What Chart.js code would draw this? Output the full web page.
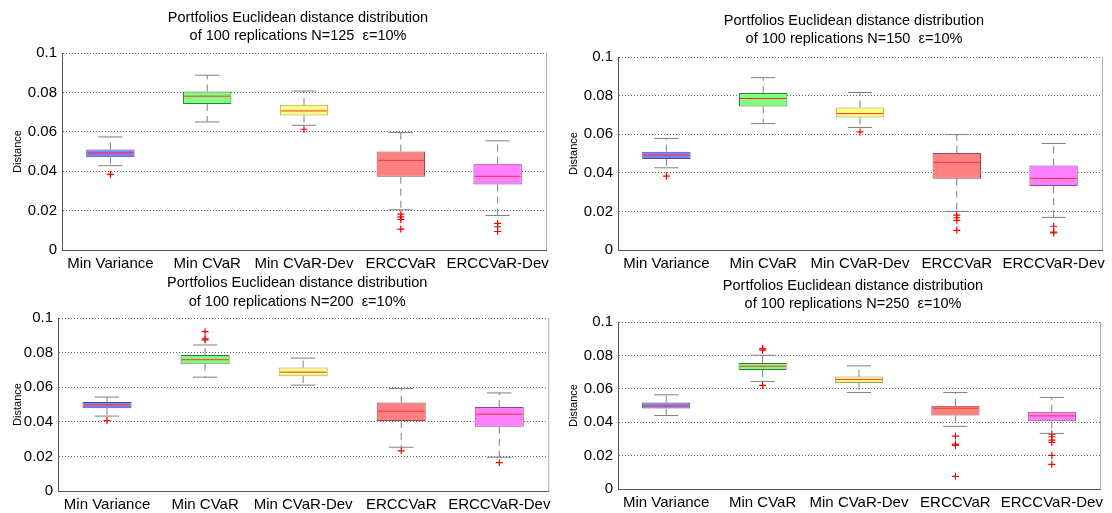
<!DOCTYPE html>
<html>
<head>
<meta charset="utf-8">
<script src="https://cdn.jsdelivr.net/npm/chart.js@4.4.1/dist/chart.umd.min.js"></script>
<style>
body { margin: 0; background: #fff; width: 1112px; height: 513px; overflow: hidden; position: relative; }
canvas { position: absolute; }
</style>
</head>
<body>
<canvas id="c125" width="556" height="270" style="left:0;top:0"></canvas>
<canvas id="c150" width="556" height="270" style="left:556px;top:0"></canvas>
<canvas id="c200" width="556" height="243" style="left:0;top:270px"></canvas>
<canvas id="c250" width="556" height="243" style="left:556px;top:270px"></canvas>
<script>
var categories = ['Min Variance', 'Min CVaR', 'Min CVaR-Dev', 'ERCCVaR', 'ERCCVaR-Dev'];
var yTickLabels = ['0', '0.02', '0.04', '0.06', '0.08', '0.1'];

// N=125
var lo125 = [0.0428, 0.0650, 0.0633, 0.0204, 0.0175];
var q1_125 = [0.0471, 0.0741, 0.0683, 0.0372, 0.0333];
var med125 = [0.0493, 0.0781, 0.0706, 0.0455, 0.0374];
var q3_125 = [0.0510, 0.0805, 0.0737, 0.0500, 0.0438];
var hi125 = [0.0574, 0.0887, 0.0807, 0.0596, 0.0554];
var out125 = [[0.0384], [], [0.0613], [0.0182, 0.0168, 0.0155, 0.0106], [0.0135, 0.0118, 0.0094]];

// N=150
var lo150 = [0.0426, 0.0655, 0.0635, 0.0200, 0.0169];
var q1_150 = [0.0471, 0.0743, 0.0686, 0.0369, 0.0331];
var med150 = [0.0491, 0.0785, 0.0707, 0.0454, 0.0371];
var q3_150 = [0.0509, 0.0814, 0.0738, 0.0503, 0.0438];
var hi150 = [0.0578, 0.0893, 0.0816, 0.0598, 0.0552];
var out150 = [[0.0383], [], [0.0612], [0.0181, 0.0167, 0.0154, 0.0102], [0.0123, 0.0093, 0.0088]];

// N=200
var lo200 = [0.0433, 0.0658, 0.0612, 0.0253, 0.0195];
var q1_200 = [0.0479, 0.0735, 0.0664, 0.0404, 0.0371];
var med200 = [0.0496, 0.0759, 0.0687, 0.0461, 0.0444];
var q3_200 = [0.0514, 0.0786, 0.0714, 0.0511, 0.0485];
var hi200 = [0.0543, 0.0844, 0.0768, 0.0592, 0.0567];
var out200 = [[0.0407], [0.0921, 0.0880, 0.0874], [], [0.0232], [0.0164]];

// N=250
var lo250 = [0.0440, 0.0644, 0.0578, 0.0375, 0.0333];
var q1_250 = [0.0482, 0.0713, 0.0634, 0.0440, 0.0405];
var med250 = [0.0496, 0.0735, 0.0656, 0.0484, 0.0438];
var q3_250 = [0.0518, 0.0755, 0.0673, 0.0498, 0.0462];
var hi250 = [0.0564, 0.0801, 0.0737, 0.0578, 0.0548];
var out250 = [[], [0.0841, 0.0831, 0.0620], [], [0.0317, 0.0269, 0.0261, 0.0076], [0.0329, 0.0313, 0.0293, 0.0279, 0.0201, 0.0148]];

var boxFill = ['rgb(128,128,255)', 'rgb(128,255,128)', 'rgb(255,255,128)', 'rgb(255,128,128)', 'rgb(255,128,255)'];
var boxEdge = ['#4a4a8c', '#3c7a3c', '#9a9a6a', '#8a5050', '#8a4a8a'];
var fontName = '"Liberation Sans", Arial, sans-serif';

var boxParts = {
    id: 'boxParts',
    afterDatasetsDraw: function (chart, args, o) {
        var ctx = chart.ctx, xs = chart.scales.x, ys = chart.scales.y;
        var bars = chart.getDatasetMeta(0).data;
        ctx.save();
        for (var i = 0; i < categories.length; i++) {
            var x = xs.getPixelForValue(i);
            var w = bars[i].width;
            var yLo = ys.getPixelForValue(o.lo[i]), yHi = ys.getPixelForValue(o.hi[i]);
            var yQ1 = ys.getPixelForValue(o.q1[i]), yQ3 = ys.getPixelForValue(o.q3[i]);
            var yMed = ys.getPixelForValue(o.med[i]);
            ctx.lineWidth = 1;
            ctx.strokeStyle = '#808080';
            ctx.setLineDash([7, 5]);
            ctx.beginPath();
            ctx.moveTo(x, yQ3); ctx.lineTo(x, yHi);
            ctx.moveTo(x, yQ1); ctx.lineTo(x, yLo);
            ctx.stroke();
            ctx.setLineDash([]);
            ctx.beginPath();
            ctx.moveTo(x - w / 4, yHi); ctx.lineTo(x + w / 4, yHi);
            ctx.moveTo(x - w / 4, yLo); ctx.lineTo(x + w / 4, yLo);
            ctx.stroke();
            ctx.strokeStyle = '#ff3030';
            ctx.beginPath();
            ctx.moveTo(x - w / 2 + 1, yMed); ctx.lineTo(x + w / 2 - 1, yMed);
            ctx.stroke();
        }
        var a = chart.chartArea;
        ctx.strokeStyle = '#b0b0b0';
        ctx.beginPath();
        ctx.moveTo(a.right + 0.5, a.top); ctx.lineTo(a.right + 0.5, a.bottom);
        ctx.stroke();
        ctx.restore();
    },
    afterDraw: function (chart, args, o) {
        var ctx = chart.ctx, a = chart.chartArea;
        ctx.save();
        ctx.fillStyle = '#000';
        ctx.font = '14.5px ' + fontName;
        ctx.textAlign = 'center';
        ctx.textBaseline = 'middle';
        for (var k = 0; k < o.title.length; k++) {
            ctx.fillText(o.title[k], (a.left + a.right) / 2 - 6, o.titleY[k]);
        }
        ctx.restore();
    }
};

function boxChart(id, n, geo, lo, q1, med, q3, hi, out) {
    var canvas = document.getElementById(id);
    var W = canvas.width, H = canvas.height;
    var outPts = [];
    out.forEach(function (vals, i) {
        vals.forEach(function (v) { outPts.push({ x: categories[i], y: v }); });
    });
    return new Chart(canvas, {
        type: 'bar',
        data: {
            labels: categories,
            datasets: [{
                type: 'bar',
                data: q1.map(function (v, i) { return [v, q3[i]]; }),
                backgroundColor: boxFill,
                borderColor: boxEdge,
                borderWidth: 1,
                borderSkipped: false,
                categoryPercentage: 1,
                barPercentage: 0.5
            }, {
                type: 'scatter',
                data: outPts,
                pointStyle: 'cross',
                pointRadius: 3.5,
                pointBorderWidth: 1.2,
                pointBorderColor: '#ff0000',
                borderColor: '#ff0000',
                backgroundColor: '#ff0000'
            }]
        },
        options: {
            responsive: false,
            animation: false,
            devicePixelRatio: 1,
            layout: { padding: { left: 0, top: geo.top, right: W - geo.right, bottom: 0 } },
            plugins: {
                legend: { display: false },
                tooltip: { enabled: false },
                boxParts: {
                    lo: lo, q1: q1, med: med, q3: q3, hi: hi,
                    title: ['Portfolios Euclidean distance distribution', 'of 100 replications N=' + n + '  \u03b5=10%'],
                    titleY: geo.titleY
                }
            },
            scales: {
                x: {
                    type: 'category',
                    offset: true,
                    grid: { display: false, drawTicks: false },
                    border: { display: true, color: '#555' },
                    ticks: { color: '#000', font: { family: fontName, size: 15 }, padding: 5, maxRotation: 0, autoSkip: false },
                    afterFit: function (s) { s.height = H - geo.bottom; }
                },
                y: {
                    min: 0,
                    max: 0.1,
                    grid: { color: '#666', drawTicks: false },
                    border: { display: true, color: '#555', dash: [1, 2] },
                    ticks: {
                        stepSize: 0.02,
                        color: '#000',
                        padding: 5,
                        font: { family: fontName, size: 15 },
                        callback: function (v, i) { return yTickLabels[i]; }
                    },
                    title: { display: true, text: 'Distance', color: '#000', font: { family: fontName, size: 11 }, padding: { top: 11, bottom: 0 } },
                    afterFit: function (s) { s.width = geo.left; }
                }
            }
        },
        plugins: [boxParts]
    });
}

boxChart('c125', 125, { left: 62, right: 546, top: 53, bottom: 250, titleY: [18, 36] }, lo125, q1_125, med125, q3_125, hi125, out125);
boxChart('c150', 150, { left: 62, right: 546, top: 57, bottom: 250, titleY: [21, 39] }, lo150, q1_150, med150, q3_150, hi150, out150);
boxChart('c200', 200, { left: 58, right: 550, top: 48, bottom: 221, titleY: [13, 32] }, lo200, q1_200, med200, q3_200, hi200, out200);
boxChart('c250', 250, { left: 62, right: 544, top: 52, bottom: 219, titleY: [16, 34] }, lo250, q1_250, med250, q3_250, hi250, out250);
</script>
</body>
</html>
